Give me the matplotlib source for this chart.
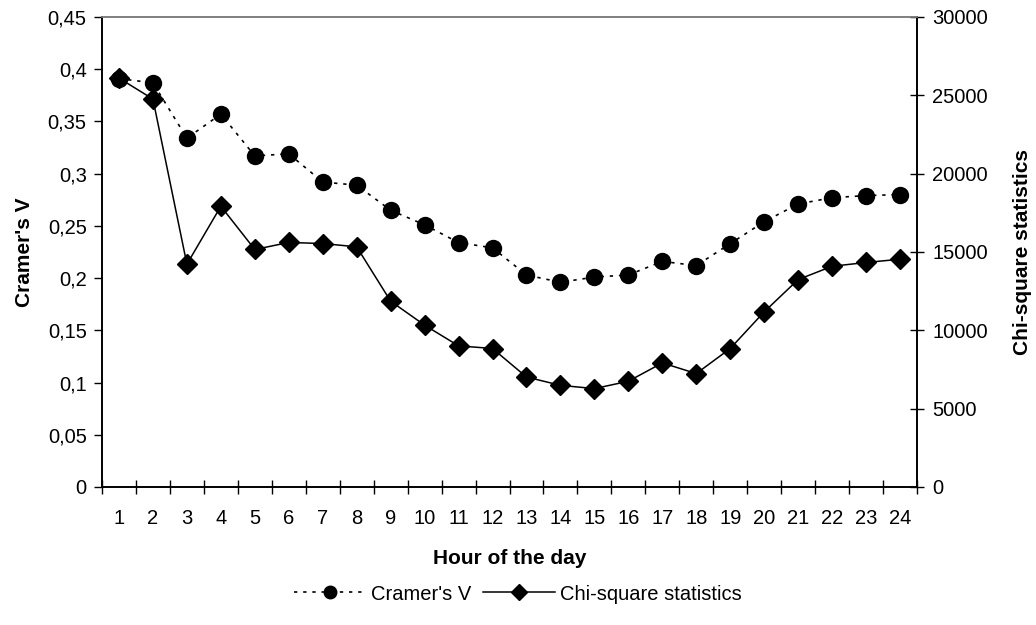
import matplotlib.pyplot as plt
from matplotlib.lines import Line2D
import numpy as np

hours = list(range(1, 25))
cramers_v = [0.391, 0.387, 0.334, 0.357, 0.317, 0.319, 0.292, 0.289, 0.265, 0.251,
             0.234, 0.229, 0.203, 0.196, 0.201, 0.203, 0.216, 0.212, 0.233, 0.254,
             0.271, 0.277, 0.279, 0.280]
chi_square = [26100, 24760, 14220, 17920, 15160, 15610, 15540, 15330, 11860, 10330,
              9010, 8840, 7020, 6490, 6280, 6750, 7920, 7240, 8840, 11180,
              13240, 14090, 14330, 14540]

plt.rcParams["font.family"] = ["Liberation Sans", "DejaVu Sans"]
plt.rcParams["font.size"] = 14.5

fig = plt.figure(figsize=(10.36, 6.25), dpi=100)
ax = fig.add_axes([102 / 1036, 1 - 487 / 625, 815 / 1036, 470 / 625])
ax2 = ax.twinx()

ax.plot(hours, cramers_v, color="black", linestyle=(0, (2, 3.5)), linewidth=1.2,
        marker="o", markersize=11.5, label="Cramer's V")
ax2.plot(hours, chi_square, color="black", linestyle="-", linewidth=1.1,
         marker="D", markersize=10, label="Chi-square statistics")

ax.set_xlim(0.5, 24.5)
ax.set_ylim(0, 0.45)
ax2.set_ylim(0, 30000)

ax.set_yticks(np.arange(0, 0.451, 0.05))
ax.set_yticklabels(["0" if v == 0 else f"{v:g}".replace(".", ",") for v in np.arange(0, 0.451, 0.05)])
ax2.set_yticks(np.arange(0, 30001, 5000))
ax2.set_yticklabels([str(v) for v in range(0, 30001, 5000)])

ax.set_xticks(hours)
ax.set_xticklabels([str(h) for h in hours])
ax.set_xticks(np.arange(0.5, 25, 1), minor=True)
ax.tick_params(axis="x", which="major", length=0, pad=16)
ax.tick_params(axis="x", which="minor", direction="inout", length=10, width=1)
ax.tick_params(axis="y", direction="out", length=6, width=1, pad=5)
ax2.tick_params(axis="y", direction="inout", length=10, width=1, pad=6)

for a in (ax, ax2):
    a.spines["top"].set_color("#808080")
    a.spines["top"].set_linewidth(1.2)
    for s in ("left", "right", "bottom"):
        a.spines[s].set_color("black")
        a.spines[s].set_linewidth(1.2)

ax.set_xlabel("Hour of the day", fontweight="bold", fontsize=15, labelpad=15)
ax.set_ylabel("Cramer's V", fontweight="bold", fontsize=15, labelpad=10)
ax2.set_ylabel("Chi-square statistics", fontweight="bold", fontsize=15, labelpad=18)

handles = [
    Line2D([], [], color="black", linestyle=(0, (2, 3.5)), linewidth=1.2, marker="o", markersize=9),
    Line2D([], [], color="black", linestyle="-", linewidth=1.1, marker="D", markersize=8),
]
fig.legend(handles, ["Cramer's V", "Chi-square statistics"], loc="center",
           bbox_to_anchor=(0.5, 1 - 594 / 625), ncol=2, frameon=False,
           handlelength=3.6, handletextpad=0.25, columnspacing=0.55, fontsize=14.5)

fig.savefig("out.png", dpi=100)
